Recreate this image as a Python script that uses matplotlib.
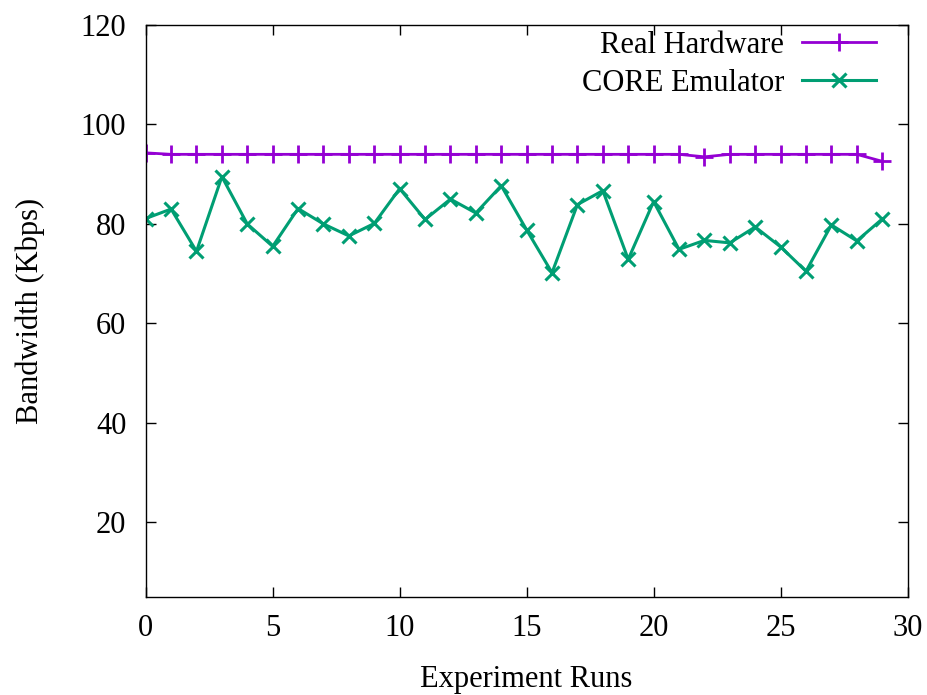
import matplotlib
matplotlib.use('Agg')
import matplotlib.pyplot as plt

# Bandwidth per experiment run
runs = list(range(30))
real_hw = [94.3, 94.0, 94.0, 94.0, 94.0, 94.0, 94.0, 94.0, 94.0, 94.0,
           94.0, 94.0, 94.0, 94.0, 94.0, 94.0, 94.0, 94.0, 94.0, 94.0,
           94.0, 94.0, 93.5, 94.0, 94.0, 94.0, 94.0, 94.0, 94.0, 92.6]
core_emu = [81.1, 83.0, 74.5, 89.5, 80.0, 75.5, 83.1, 80.0, 77.6, 80.1,
            87.1, 80.9, 85.0, 82.2, 87.7, 78.8, 70.2, 83.9, 86.7, 72.9,
            84.5, 74.9, 76.7, 76.2, 79.4, 75.4, 70.5, 79.8, 76.6, 81.0]

plt.rcParams['font.family'] = ['Liberation Serif', 'DejaVu Serif']
plt.rcParams['font.size'] = 22

fig = plt.figure(figsize=(9.28, 6.95), dpi=100)
ax = fig.add_axes([0.157, 0.141, 0.821, 0.823])

ax.plot(runs, real_hw, color='#9400D3', lw=2, marker='+', ms=13, mew=2,
        label='Real Hardware')
ax.plot(runs, core_emu, color='#009E73', lw=2.2, marker='x', ms=10, mew=2.2,
        label='CORE Emulator')

ax.set_xlim(0, 30)
ax.set_ylim(5, 120)
ax.set_xticks(range(0, 31, 5))
ax.set_yticks(range(20, 121, 20))
ax.tick_params(direction='in', length=7, width=1, top=True, right=True)
ax.tick_params(axis='x', pad=12)
ax.tick_params(axis='y', pad=14)
for s in ax.spines.values():
    s.set_linewidth(1)

ax.set_xlabel('Experiment Runs', labelpad=16)
ax.set_ylabel('Bandwidth (Kbps)', labelpad=26)

ax.legend(loc='upper right', bbox_to_anchor=(0.958, 0.99), frameon=False,
          markerfirst=False, handlelength=2.4, handletextpad=0.6,
          labelspacing=0.3, borderpad=0, borderaxespad=0)

fig.savefig('out.png', dpi=100)
